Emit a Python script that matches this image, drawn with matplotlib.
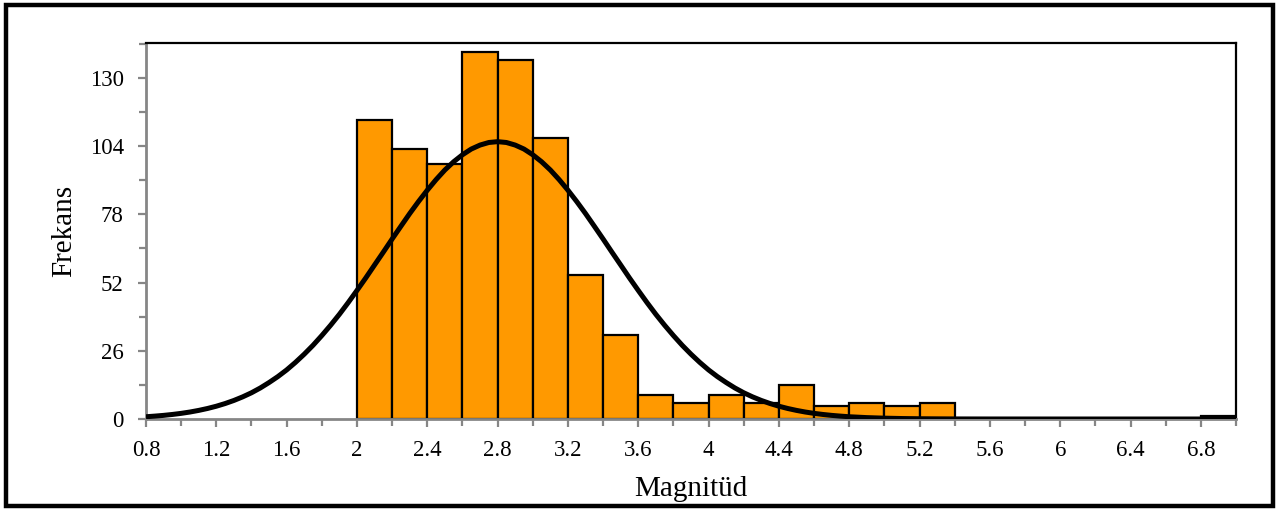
import matplotlib
matplotlib.use("Agg")
import matplotlib.pyplot as plt
from matplotlib.ticker import MultipleLocator, FuncFormatter
from matplotlib.patches import Rectangle

# Histogram data (bin left edges, width 0.2)
bin_left = [2.0, 2.2, 2.4, 2.6, 2.8, 3.0, 3.2, 3.4, 3.6, 3.8, 4.0, 4.2, 4.4,
            4.6, 4.8, 5.0, 5.2, 5.4, 5.6, 5.8, 6.8]
counts = [114, 103, 97, 140, 137, 107, 55, 32, 9, 6, 9, 6, 13,
          5, 6, 5, 6, 0, 0, 0, 1]
bin_width = 0.2

# Fitted normal curve
curve_x = [0.8, 0.85, 0.9, 0.95, 1.0, 1.05, 1.1, 1.15, 1.2, 1.25, 1.3, 1.35,
           1.4, 1.45, 1.5, 1.55, 1.6, 1.65, 1.7, 1.75, 1.8, 1.85, 1.9, 1.95,
           2.0, 2.05, 2.1, 2.15, 2.2, 2.25, 2.3, 2.35, 2.4, 2.45, 2.5, 2.55,
           2.6, 2.65, 2.7, 2.75, 2.8, 2.85, 2.9, 2.95, 3.0, 3.05, 3.1, 3.15,
           3.2, 3.25, 3.3, 3.35, 3.4, 3.45, 3.5, 3.55, 3.6, 3.65, 3.7, 3.75,
           3.8, 3.85, 3.9, 3.95, 4.0, 4.05, 4.1, 4.15, 4.2, 4.25, 4.3, 4.35,
           4.4, 4.45, 4.5, 4.55, 4.6, 4.65, 4.7, 4.75, 4.8, 4.9, 5.0, 5.1,
           5.2, 5.3, 5.4, 5.6, 6.0, 7.0]
curve_y = [0.86, 1.10, 1.38, 1.73, 2.15, 2.66, 3.28, 4.01, 4.87, 5.89, 7.07,
           8.44, 10.0, 11.82, 13.9, 16.16, 18.7, 21.57, 24.7, 28.09, 31.8,
           35.73, 39.9, 44.35, 49.0, 53.76, 58.7, 63.61, 68.6, 73.48, 78.3,
           82.87, 87.2, 91.23, 94.9, 98.05, 100.7, 102.88, 104.4, 105.38,
           105.7, 105.38, 104.4, 102.88, 100.7, 98.05, 94.9, 91.23, 87.2,
           82.87, 78.3, 73.48, 68.6, 63.61, 58.7, 53.76, 49.0, 44.35, 39.9,
           35.73, 31.8, 28.09, 24.7, 21.57, 18.7, 16.16, 13.9, 11.82, 10.0,
           8.44, 7.07, 5.89, 4.87, 4.01, 3.28, 2.66, 2.15, 1.73, 1.38, 1.10,
           0.86, 0.53, 0.32, 0.18, 0.10, 0.06, 0.03, 0.01, 0.0, 0.0]

x_label = "Magnitüd"
y_label = "Frekans"

plt.rcParams['font.family'] = ['Liberation Serif', 'DejaVu Serif']

fig = plt.figure(figsize=(12.79, 5.11), dpi=100)
ax = fig.add_axes([146/1279, 1-419/511, (1236-146)/1279, (419-43)/511])

ax.bar(bin_left, counts, width=bin_width, align='edge', color='#FF9900',
       edgecolor='black', linewidth=1.6, zorder=2)
ax.plot(curve_x, curve_y, color='black', linewidth=3.6, zorder=3,
        solid_capstyle='butt', solid_joinstyle='round')

ax.set_xlim(0.8, 7.0)
ax.set_ylim(0, 143.3)
ax.xaxis.set_minor_locator(MultipleLocator(0.2))
ax.yaxis.set_major_locator(MultipleLocator(26))
ax.yaxis.set_minor_locator(MultipleLocator(13))
ax.set_xticks([0.8 + 0.4*i for i in range(16)])
ax.xaxis.set_major_formatter(FuncFormatter(lambda v, p: f"{v:.1f}".rstrip('0').rstrip('.')))

gray = '#868686'
for s in ['left', 'bottom']:
    ax.spines[s].set_color(gray)
    ax.spines[s].set_linewidth(2.0)
for s in ['top', 'right']:
    ax.spines[s].set_color('black')
    ax.spines[s].set_linewidth(1.6)

ax.tick_params(axis='both', which='both', direction='out', color=gray, width=1.6)
ax.tick_params(axis='both', which='major', length=6, labelsize=16.5)
ax.tick_params(axis='both', which='minor', length=5)
ax.tick_params(axis='y', which='major', pad=10)
ax.tick_params(axis='x', which='major', pad=9)

ax.set_xlabel(x_label, fontsize=21, labelpad=11)
ax.set_ylabel(y_label, fontsize=21, labelpad=9)

# Outer figure border
fig.patches.append(Rectangle((6/1279, 5/511), 1267/1279, 501/511,
                             transform=fig.transFigure, fill=False,
                             edgecolor='black', linewidth=3.2))

fig.savefig("out.png", dpi=100)
